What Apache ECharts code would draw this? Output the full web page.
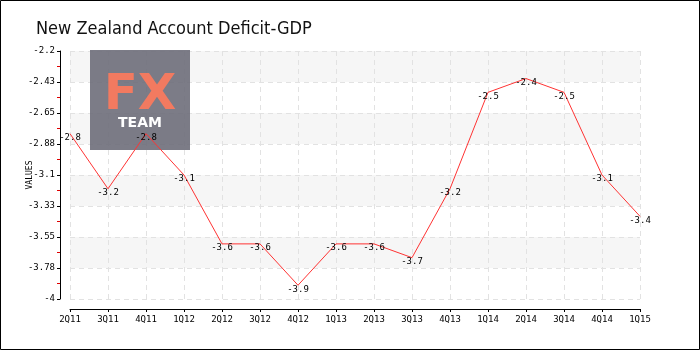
<!DOCTYPE html>
<html><head><meta charset="utf-8">
<script src="https://cdn.jsdelivr.net/npm/echarts@6/dist/echarts.min.js"></script>
<style>html,body{margin:0;padding:0;background:#fff}#c{width:700px;height:350px}</style>
</head><body><div id="c"></div>
<script>
const titleText = 'New Zealand Account Deficit-GDP';
const yName = 'VALUES';
const categories = ['2Q11','3Q11','4Q11','1Q12','2Q12','3Q12','4Q12','1Q13','2Q13','3Q13','4Q13','1Q14','2Q14','3Q14','4Q14','1Q15'];
const values = [-2.8,-3.2,-2.8,-3.1,-3.6,-3.6,-3.9,-3.6,-3.6,-3.7,-3.2,-2.5,-2.4,-2.5,-3.1,-3.4];
const yMin = -4, yMax = -2.2, yInterval = 0.225;

function fmt(v){
  const s = v < 0 ? '-' : '';
  const r = Math.round(Math.abs(v)*100 + 1e-6)/100;
  return s + String(r);
}
const F = '"DejaVu Sans Condensed","Liberation Sans Narrow",sans-serif';
const M = '"DejaVu Sans Mono",monospace';
const chart = echarts.init(document.getElementById('c'), null, {renderer:'canvas'});
chart.setOption({
  animation:false,
  backgroundColor:'#fff',
  title:{text:titleText,left:31,top:15,textStyle:{fontFamily:F,fontWeight:'normal',fontSize:18,color:'#111'}},
  graphic:[
    {type:'rect',shape:{x:0.5,y:0.5,width:699,height:349},style:{fill:'none',stroke:'#000',lineWidth:1},z:100},
    {type:'rect',shape:{x:90,y:50,width:100,height:100},style:{fill:'rgba(110,110,122,0.9)'},z:1},
    {type:'text',x:140,y:96,style:{text:'FX',fill:'#f27a60',font:'bold 50px "DejaVu Sans",sans-serif',align:'center',verticalAlign:'middle'},z:1},
    {type:'text',x:140,y:123,style:{text:'TEAM',fill:'#ffffff',font:'bold 14px "DejaVu Sans",sans-serif',align:'center',verticalAlign:'middle'},z:1}
  ],
  grid:{left:70,right:60,top:51,bottom:51},
  xAxis:{type:'category',data:categories,boundaryGap:false,offset:10,
    axisLine:{lineStyle:{color:'#000'}},
    axisTick:{show:true,length:3,lineStyle:{color:'#000'}},
    axisLabel:{color:'#000',fontSize:9,fontFamily:M,margin:6},
    splitLine:{show:true,lineStyle:{color:'#e2e2e2',type:[5,4]}}
  },
  yAxis:{type:'value',min:yMin,max:yMax,interval:yInterval,offset:10,
    name:yName,nameLocation:'middle',nameGap:26,nameMoveOverlap:false,nameTextStyle:{fontSize:8,fontFamily:M,color:'#000'},
    axisLine:{show:true,lineStyle:{color:'#000'}},
    axisTick:{show:true,length:3,lineStyle:{color:'#000'}},
    minorTick:{show:true,splitNumber:2,length:3,lineStyle:{color:'#e00000'}},
    axisLabel:{color:'#000',fontSize:9,fontFamily:M,margin:5,formatter:fmt},
    splitLine:{show:true,lineStyle:{color:'#e2e2e2',type:[5,4]}},
    splitArea:{show:true,areaStyle:{color:['rgba(255,255,255,0)','rgba(235,235,235,0.45)']}}
  },
  series:[{type:'line',data:values,symbol:'circle',symbolSize:1,z:5,itemStyle:{color:'rgba(0,0,0,0)'},
    lineStyle:{color:'#ff3333',width:1},
    label:{show:true,position:'inside',offset:[0,4],color:'#000',fontSize:9,fontFamily:M,formatter:p=>fmt(p.value)}
  }]
});
</script></body></html>
